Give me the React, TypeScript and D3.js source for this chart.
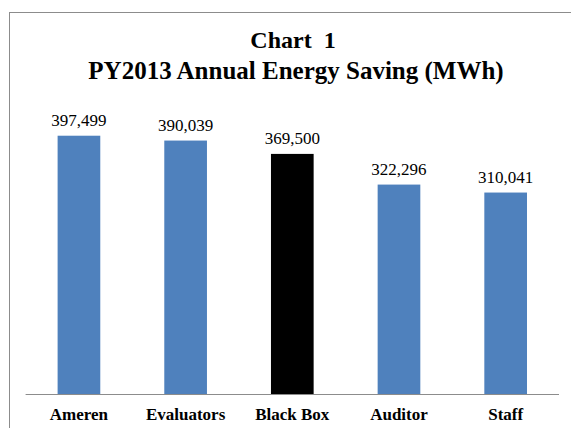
import * as d3 from "d3";

const CATEGORIES = ["Ameren", "Evaluators", "Black Box", "Auditor", "Staff"];
const SAVINGS = [397499, 390039, 369500, 322296, 310041];
const BAR_COLORS = ["#4F81BD", "#4F81BD", "#000000", "#4F81BD", "#4F81BD"];
const Y_MAX = 450000;

const W = 571;
const H = 428;
const PLOT_L = 25.6;
const PLOT_R = 559;
const PLOT_T = 101.6;
const PLOT_B = 394;
const FONT = "Liberation Serif, DejaVu Serif, serif";

export default function App() {
  const x = d3
    .scaleBand<string>()
    .domain(CATEGORIES)
    .range([PLOT_L, PLOT_R])
    .paddingInner(0.6)
    .paddingOuter(0.3);

  const y = d3.scaleLinear().domain([0, Y_MAX]).range([PLOT_B, PLOT_T]);
  const fmt = d3.format(",");

  return (
    <svg
      width={W}
      height={H}
      viewBox={`0 0 ${W} ${H}`}
      style={{ position: "absolute", left: 0, top: 0, display: "block", background: "#fff", fontFamily: FONT }}
    >
      {/* chart frame, cut off on the right and bottom */}
      <rect x={9.5} y={12.5} width={700} height={600} fill="#fff" stroke="#8c8c8c" strokeWidth={1} />

      <g textAnchor="middle" fontWeight="bold" fill="#000" style={{ fontFamily: FONT }}>
        <text x={293} y={48} fontSize={24}>
          Chart&#160;&#160;1
        </text>
        <text x={296} y={79} fontSize={25}>
          PY2013 Annual Energy Saving (MWh)
        </text>
      </g>

      {CATEGORIES.map((c, i) => {
        const bx = x(c) ?? 0;
        const by = y(SAVINGS[i]);
        return (
          <g key={c}>
            <rect x={bx} y={by} width={x.bandwidth()} height={PLOT_B - by} fill={BAR_COLORS[i]} />
            <text
              x={bx + x.bandwidth() / 2}
              y={by - 10}
              textAnchor="middle"
              fontSize={17}
              fill="#000"
              style={{ fontFamily: FONT }}
            >
              {fmt(SAVINGS[i])}
            </text>
          </g>
        );
      })}

      <line x1={PLOT_L} x2={PLOT_R} y1={PLOT_B + 0.5} y2={PLOT_B + 0.5} stroke="#8c8c8c" strokeWidth={1} />

      <g textAnchor="middle" fontWeight="bold" fontSize={17} fill="#000" style={{ fontFamily: FONT }}>
        {CATEGORIES.map((c) => (
          <text key={c} x={(x(c) ?? 0) + x.bandwidth() / 2} y={420}>
            {c}
          </text>
        ))}
      </g>
    </svg>
  );
}
